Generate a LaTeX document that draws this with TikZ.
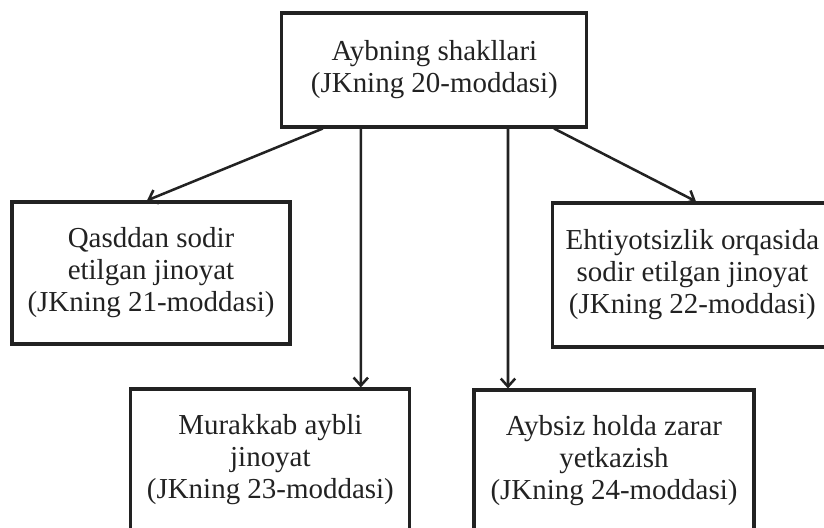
\documentclass[tikz,border=0pt]{standalone}
\usepackage{fontspec}
\setmainfont{Liberation Serif}
\usetikzlibrary{arrows.meta}
\definecolor{siyoh}{HTML}{222222}
\tikzset {>={Straight Barb[length=2mm,width=3.6mm]},
  blok/.style={draw=siyoh, line width=2.2pt, align=center, text=siyoh,
    font=\fontsize{20.6}{22.8}\selectfont, inner sep=0pt},
  strelka/.style={->, draw=siyoh, line width=1.8pt}}

\begin{document}
\begin{tikzpicture}
\useasboundingbox (0,0) rectangle (20.6,13.2);
\node[blok, minimum width=7.625cm, minimum height=2.85cm] (shakl) at (10.86,11.45) {Aybning shakllari\\(JKning 20-moddasi)};

\node[blok, minimum width=6.95cm, minimum height=3.55cm] (qasd) at (3.775,6.375) {Qasddan sodir\\etilgan jinoyat\\(JKning 21-moddasi)};
\node[blok, minimum width=6.975cm, minimum height=3.6cm] (ehtiyot) at (17.31,6.325) {Ehtiyotsizlik orqasida\\sodir etilgan jinoyat\\(JKning 22-moddasi)};

\node[blok, minimum width=6.975cm, minimum height=3.55cm] (murakkab) at (6.76,1.7) {Murakkab aybli\\jinoyat\\(JKning 23-moddasi)};
\node[blok, minimum width=7cm, minimum height=3.55cm] (aybsiz) at (15.35,1.675) {Aybsiz holda zarar\\yetkazish\\(JKning 24-moddasi)};

\draw[strelka] ([xshift=-2.79cm]shakl.south) -- ([xshift=-0.1cm]qasd.north);
\draw[strelka] ([xshift=-1.84cm]shakl.south) -- ([xshift=2.26cm]murakkab.north);
\draw[strelka] ([xshift=1.84cm]shakl.south) -- ([xshift=-2.65cm]aybsiz.north);
\draw[strelka] ([xshift=2.99cm]shakl.south) -- ([xshift=0.09cm]ehtiyot.north);
\end{tikzpicture}
\end{document}
